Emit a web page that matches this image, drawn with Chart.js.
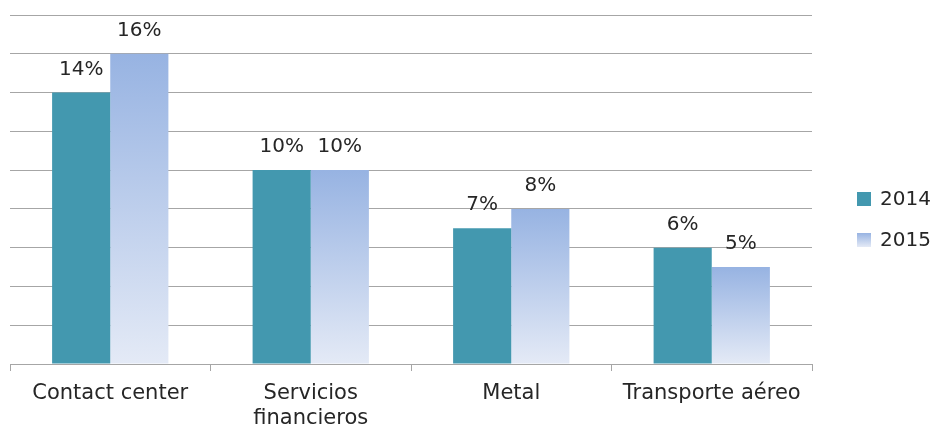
<!DOCTYPE html>
<html>
<head>
<meta charset="utf-8">
<script src="https://cdn.jsdelivr.net/npm/chart.js@4"></script>
<style>
  html, body { margin: 0; padding: 0; background: #fff; }
  #wrap { width: 934px; height: 428px; }
</style>
</head>
<body>
<div id="wrap"><canvas id="chart"></canvas></div>
<script>
const categories = ["Contact center", ["Servicios", "financieros"], "Metal", "Transporte aéreo"];
const series2014 = [14, 10, 7, 6];
const series2015 = [16, 10, 8, 5];
const seriesNames = ["2014", "2015"];

const FONT = "'DejaVu Sans', sans-serif";
const TEXT = "#262626";
const GRID = "#a6a6a6";
const TEAL = "#4398af";
const BLUE_TOP = "#97b3e2";
const BLUE_BOTTOM = "#e4eaf6";

function barGradient(ctx) {
  const chart = ctx.chart;
  const area = chart.chartArea;
  if (!area || ctx.raw === undefined) return BLUE_TOP;
  const top = chart.scales.y.getPixelForValue(ctx.raw);
  const g = chart.ctx.createLinearGradient(0, top, 0, area.bottom);
  g.addColorStop(0, BLUE_TOP);
  g.addColorStop(1, BLUE_BOTTOM);
  return g;
}

const valueLabels = {
  id: "valueLabels",
  afterDatasetsDraw(chart) {
    const c = chart.ctx;
    c.save();
    c.font = "20px " + FONT;
    c.fillStyle = TEXT;
    c.textAlign = "center";
    c.textBaseline = "middle";
    chart.data.datasets.forEach((ds, i) => {
      chart.getDatasetMeta(i).data.forEach((bar, j) => {
        c.fillText(ds.data[j] + "%", bar.x, bar.y - 23);
      });
    });
    c.restore();
  }
};

const sideLegend = {
  id: "sideLegend",
  afterDraw(chart) {
    const c = chart.ctx;
    const items = [
      { label: seriesNames[0], y: 199, fill: TEAL },
      { label: seriesNames[1], y: 240, fill: null }
    ];
    c.save();
    c.font = "20px " + FONT;
    c.textBaseline = "middle";
    items.forEach((it) => {
      let fill = it.fill;
      if (!fill) {
        fill = c.createLinearGradient(0, it.y - 7, 0, it.y + 7);
        fill.addColorStop(0, BLUE_TOP);
        fill.addColorStop(1, BLUE_BOTTOM);
      }
      c.fillStyle = fill;
      c.fillRect(857, it.y - 7, 14, 14);
      c.fillStyle = TEXT;
      c.fillText(it.label, 880, it.y + 1);
    });
    c.restore();
  }
};

new Chart(document.getElementById("chart"), {
  type: "bar",
  data: {
    labels: categories,
    datasets: [
      { label: seriesNames[0], data: series2014, backgroundColor: TEAL },
      { label: seriesNames[1], data: series2015, backgroundColor: barGradient }
    ]
  },
  options: {
    responsive: true,
    maintainAspectRatio: false,
    animation: false,
    datasets: { bar: { categoryPercentage: 0.58, barPercentage: 1 } },
    layout: { padding: { left: 10, right: 122, top: 15, bottom: 0 } },
    plugins: {
      legend: { display: false },
      tooltip: { enabled: false }
    },
    scales: {
      x: {
        grid: { display: true, drawOnChartArea: false, color: GRID, tickLength: 7, offset: true },
        border: { color: GRID },
        ticks: { color: TEXT, font: { family: FONT, size: 21, lineHeight: 1.2 }, padding: 10, maxRotation: 0, autoSkip: false },
        afterFit: (scale) => { scale.height = 64; }
      },
      y: {
        min: 0,
        max: 18,
        ticks: { display: false, stepSize: 2 },
        grid: { color: GRID, drawTicks: false },
        border: { display: false },
        afterFit: (scale) => { scale.width = 0; }
      }
    }
  },
  plugins: [valueLabels, sideLegend]
});
</script>
</body>
</html>
